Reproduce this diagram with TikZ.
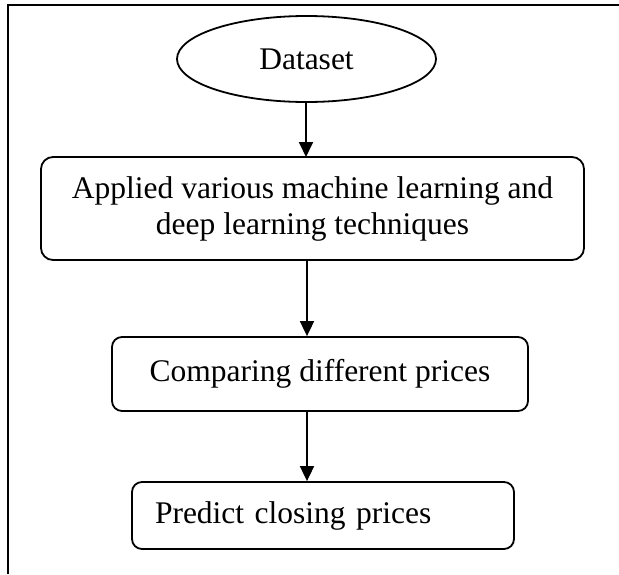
\documentclass[tikz,border=0pt]{standalone}
\usepackage{fontspec}
\setmainfont{Liberation Serif}
\usetikzlibrary{shapes.geometric,arrows.meta}

\tikzset{
  flowbox/.style={draw, line width=1.8pt, rounded corners=12pt, inner sep=0pt,
    font=\fontsize{31.5}{36}\selectfont},
  startnode/.style={draw, ellipse, line width=1.8pt, inner sep=0pt,
    font=\fontsize{31.5}{36}\selectfont},
  flowarrow/.style={line width=1.8pt, -{Triangle[width=14pt,length=15pt]}},
  frameline/.style={line width=2.6pt}
}

\begin{document}
\begin{tikzpicture}[x=1pt, y=-1pt]
  \useasboundingbox (0,0) rectangle (619,574);

  % outer frame (top and left sides only)
  \draw[frameline] (619,5) -- (8,5) -- (8,574);

  % flowchart nodes
  \node[startnode, minimum width=259pt, minimum height=86pt] (data) at (306.5,59) {Dataset};

  \node[flowbox, minimum width=543pt, minimum height=103pt, align=center] (apply) at (312.5,208.5)
    {Applied various machine learning and\\deep learning techniques};

  \node[flowbox, rounded corners=10pt, minimum width=416pt, minimum height=74pt] (compare) at (320,374)
    {Comparing different prices};

  \node[flowbox, rounded corners=10pt, text width=336pt, inner xsep=23pt, align=left,
        minimum height=67pt] (predict) at (323,515.5)
    {Predict closing prices};

  % connectors
  \draw[flowarrow] (data.south -| 306,0) -- (306,157);
  \draw[flowarrow] (apply.south -| 307,0) -- (compare.north -| 307,0);
  \draw[flowarrow] (compare.south -| 307,0) -- (predict.north -| 307,0);
\end{tikzpicture}
\end{document}
